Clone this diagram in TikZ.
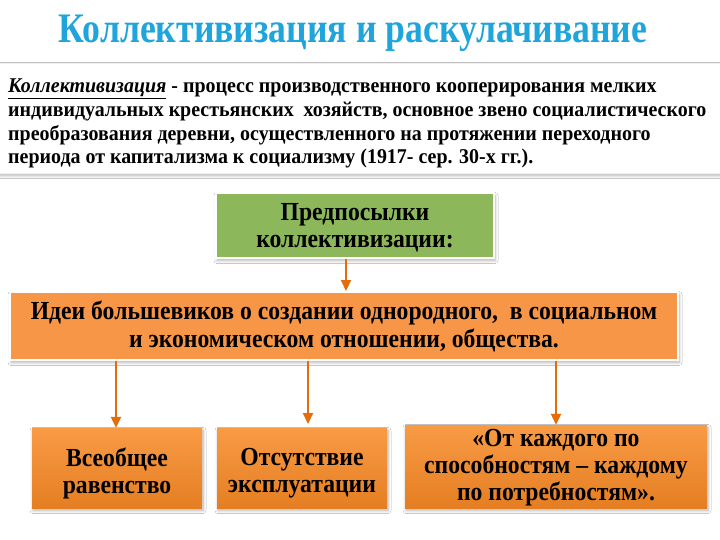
\documentclass[tikz,border=0pt]{standalone}
\usepackage{fontspec}
\setmainfont{Liberation Serif}
\newfontfamily\titlef[FakeStretch=0.85]{Liberation Serif}
\newfontfamily\deff[FakeStretch=0.95]{Liberation Serif}
\newfontfamily\boxf[FakeStretch=0.91]{Liberation Serif}
\usetikzlibrary{shadows,arrows.meta,shadows.blur}
\definecolor{titleblue}{HTML}{1FA5DC}
\definecolor{boxgreen}{HTML}{8DB75B}
\definecolor{orTop}{HTML}{F89B45}
\definecolor{orBot}{HTML}{E57E22}
\definecolor{orWide}{HTML}{F79646}
\definecolor{arr}{HTML}{E46C0A}
\tikzset{
  shad/.style={blur shadow={shadow xshift=1pt, shadow yshift=-2.5pt, shadow blur steps=8, shadow blur radius=3pt, shadow opacity=30}},
  greenbox/.style={shad, fill=boxgreen, draw=white, line width=2pt, align=center, inner sep=0pt},
  widebox/.style={shad, fill=orWide, draw=white, line width=2pt, align=center, inner sep=0pt},
  smallbox/.style={shad, top color=orTop, bottom color=orBot, draw=none, align=center, inner sep=0pt},
  conn/.style={draw=arr, line width=2.2pt, -{Triangle[length=11pt,width=10pt]}},
  boxtext/.style={font=\boxf\bfseries\fontsize{26}{27}\selectfont, align=center, inner sep=0pt}
}
\begin{document}
\begin{tikzpicture}[x=1pt,y=-1pt]
\useasboundingbox[fill=white] (0,0) rectangle (720,540);
% title
\node[text=titleblue, font=\titlef\bfseries\fontsize{42}{42}\selectfont] (title) at (353,33) {Коллективизация и раскулачивание};
% definition box
\path[shad, fill=white, draw=black!6] (-2,63) rectangle (722,173);
\node[anchor=north west, align=left, inner sep=0pt, font=\deff\bfseries\fontsize{21}{23.6}\selectfont] (def) at (8,79)
{\underline{\textit{Коллективизация}} - процесс производственного кооперирования мелких\\
индивидуальных крестьянских\ \ хозяйств, основное звено социалистического\\
преобразования деревни, осуществленного на протяжении переходного\\
периода от капитализма к социализму (1917- сер. 30-х гг.).};
% green box
\node[greenbox, minimum width=278pt, minimum height=65pt] (pre) at (355,225.5) {};
\node[boxtext, yshift=-2pt] (pret) at (pre.center) {Предпосылки\\коллективизации:};
% wide orange box
\node[widebox, minimum width=668pt, minimum height=68pt, font=\boxf\bfseries\fontsize{26}{28}\selectfont] (idea) at (344,326) {Идеи большевиков о создании однородного,\ \ в социальном\\и экономическом отношении, общества.};
% bottom boxes
\node[smallbox, minimum width=170pt, minimum height=80pt] (b1) at (117,468) {};
\node[boxtext, yshift=-5pt] (b1t) at (b1.center) {Всеобщее\\равенство};
\node[smallbox, minimum width=170pt, minimum height=80pt] (b2) at (302,468) {};
\node[boxtext, yshift=-5pt] (b2t) at (b2.center) {Отсутствие\\эксплуатации};
\node[smallbox, minimum width=302pt, minimum height=83pt] (b3) at (556,466.5) {};
\node[boxtext, yshift=-1.5pt] (b3t) at (b3.center) {«От каждого по\\способностям – каждому\\по потребностям».};
% connectors
\draw[conn] (pre.south -| 346,0) -- (idea.north -| 346,0);
\draw[conn] (idea.south -| 116,0) -- (b1.north -| 116,0);
\draw[conn] (idea.south -| 308,0) -- (308,424);
\draw[conn] (idea.south -| 556,0) -- (b3.north -| 556,0);
\end{tikzpicture}
\end{document}
